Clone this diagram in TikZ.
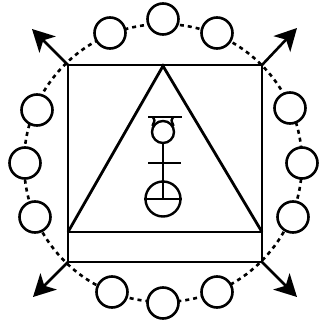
\documentclass[tikz,border=0pt]{standalone}
\usetikzlibrary{arrows.meta}
\begin{document}
\begin{tikzpicture}[x=1bp,y=-1bp,line width=2.8bp,
  bead/.style={circle,draw,fill=white,inner sep=0pt,minimum size=31bp,line width=2.6bp},
  ray/.style={-{Stealth[length=22bp,width=23bp,inset=6bp]},line width=2.6bp},
  chain/.style={dash pattern=on 4bp off 4bp,line width=2.6bp},
  sym/.style={line width=2.4bp}]
\useasboundingbox (0,0) rectangle (320,323);
% dotted ring
\draw[chain] (163,163) circle[radius=139];
% square and triangle
\coordinate (tl) at (68,65);
\coordinate (tr) at (262,65);
\coordinate (br) at (262,262);
\coordinate (bl) at (68,262);
\coordinate (ml) at (68,232);
\coordinate (mr) at (262,232);
\coordinate (apex) at (163,66);
\draw (tl) -- (tr) -- (br) -- (bl) -- cycle;
\draw (ml) -- (mr);
\draw (ml) -- (apex) -- (mr);
% arrows
\coordinate (atl) at (32,29);
\coordinate (atr) at (297,28);
\coordinate (abl) at (33,297);
\coordinate (abr) at (297,297);
\draw[ray] (tl) -- (atl);
\draw[ray] (tr) -- (atr);
\draw[ray] (bl) -- (abl);
\draw[ray] (br) -- (abr);
% beads
\node[bead] (b1) at (110,33) {};
\node[bead] (b2) at (163,19) {};
\node[bead] (b3) at (217,33) {};
\node[bead] (b4) at (290,108) {};
\node[bead] (b5) at (302,163) {};
\node[bead] (b6) at (293,217) {};
\node[bead] (b7) at (217,292) {};
\node[bead] (b8) at (163,303) {};
\node[bead] (b9) at (112,292) {};
\node[bead] (b10) at (35,217) {};
\node[bead] (b11) at (25,163) {};
\node[bead] (b12) at (37,110) {};
% central symbol
\node[circle,draw,inner sep=0pt,minimum size=22bp,sym] (sc) at (163,132) {};
\node[circle,draw,inner sep=0pt,minimum size=35bp,sym] (bc) at (163,199) {};
\draw[sym] (148,117) -- (182,117);
\draw[sym] (153,117) .. controls (155,120) .. (sc.150);
\draw[sym] (173,117) .. controls (171,120) .. (sc.30);
\draw[sym] (sc.south) -- (bc.center);
\draw[sym] (148,163) -- (181,163);
\draw[sym] (bc.west) -- (bc.east);
\end{tikzpicture}
\end{document}
